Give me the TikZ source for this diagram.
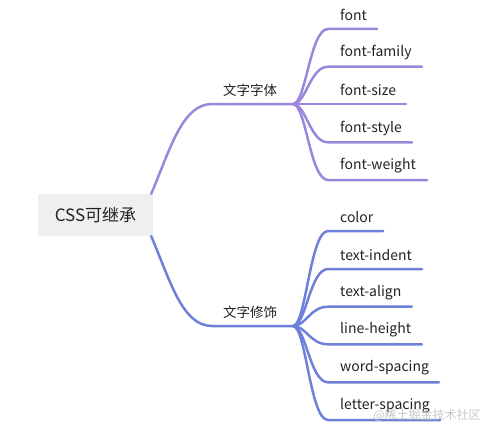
\documentclass[tikz,border=0pt]{standalone}
\usepackage{fontspec}
\setmainfont{Noto Sans CJK SC}
\definecolor{cA}{HTML}{9A87DC}
\definecolor{cB}{HTML}{6F80D8}
\definecolor{rootgray}{HTML}{EFEFEF}
\definecolor{txt}{HTML}{222222}
\begin{document}
\begin{tikzpicture}[x=1pt,y=-1pt,line cap=round,
  brA/.style={draw=cA,line width=2.5pt},
  brB/.style={draw=cB,line width=2.5pt},
  leaf/.style={anchor=west,inner sep=0pt,text=txt,font=\fontsize{14}{16}\selectfont},
  sublabel/.style={inner sep=0pt,text=txt,font=\fontsize{13.5}{16}\selectfont}]
\useasboundingbox (0,0) rectangle (486,433);
\node[fill=rootgray,minimum width=115pt,minimum height=42pt,inner sep=0pt,text=txt,
  font=\fontsize{17}{20}\selectfont] (root) at (95.5,215) {CSS可继承};
% top branch
\coordinate (tA) at (212,104);
\coordinate (hubA) at (293,104);
\node[sublabel] (labA) at (250,90) {文字字体};
\draw[brA] ([xshift=-2pt]root.north east) .. controls (170,150) and (182,104) .. (tA) -- (hubA);
% bottom branch
\coordinate (tB) at (212,326);
\coordinate (hubB) at (293,326);
\node[sublabel] (labB) at (250,312) {文字修饰};
\draw[brB] ([xshift=-2pt]root.south east) .. controls (170,280) and (182,326) .. (tB) -- (hubB);
% leaves top
\foreach \n/\y/\e/\t in {a1/29/377/font,a2/66.7/422/font-family,a3/104/406/font-size,a4/142.3/412/font-style,a5/180/427/font-weight}{
  \node[leaf] (\n) at (340,\y-14.3) {\t};
  \coordinate (\n e) at (\e,\y);
  \draw[brA] (hubA) .. controls (306,104) and (310,\y) .. (328,\y) -- (\n e);
}
% leaves bottom
\foreach \n/\y/\e/\t in {b1/231/383/color,b2/269/422/text-indent,b3/306.7/412/text-align,b4/344.3/422/line-height,b5/382.3/439/word-spacing,b6/420/440/letter-spacing}{
  \node[leaf] (\n) at (340,\y-14.3) {\t};
  \coordinate (\n e) at (\e,\y);
  \draw[brB] (hubB) .. controls (306,326) and (310,\y) .. (328,\y) -- (\n e);
}
\node[text=black!22,inner sep=0pt,font=\fontsize{12}{14}\selectfont] (wm) at (427,415) {@稀土掘金技术社区};
\end{tikzpicture}
\end{document}
